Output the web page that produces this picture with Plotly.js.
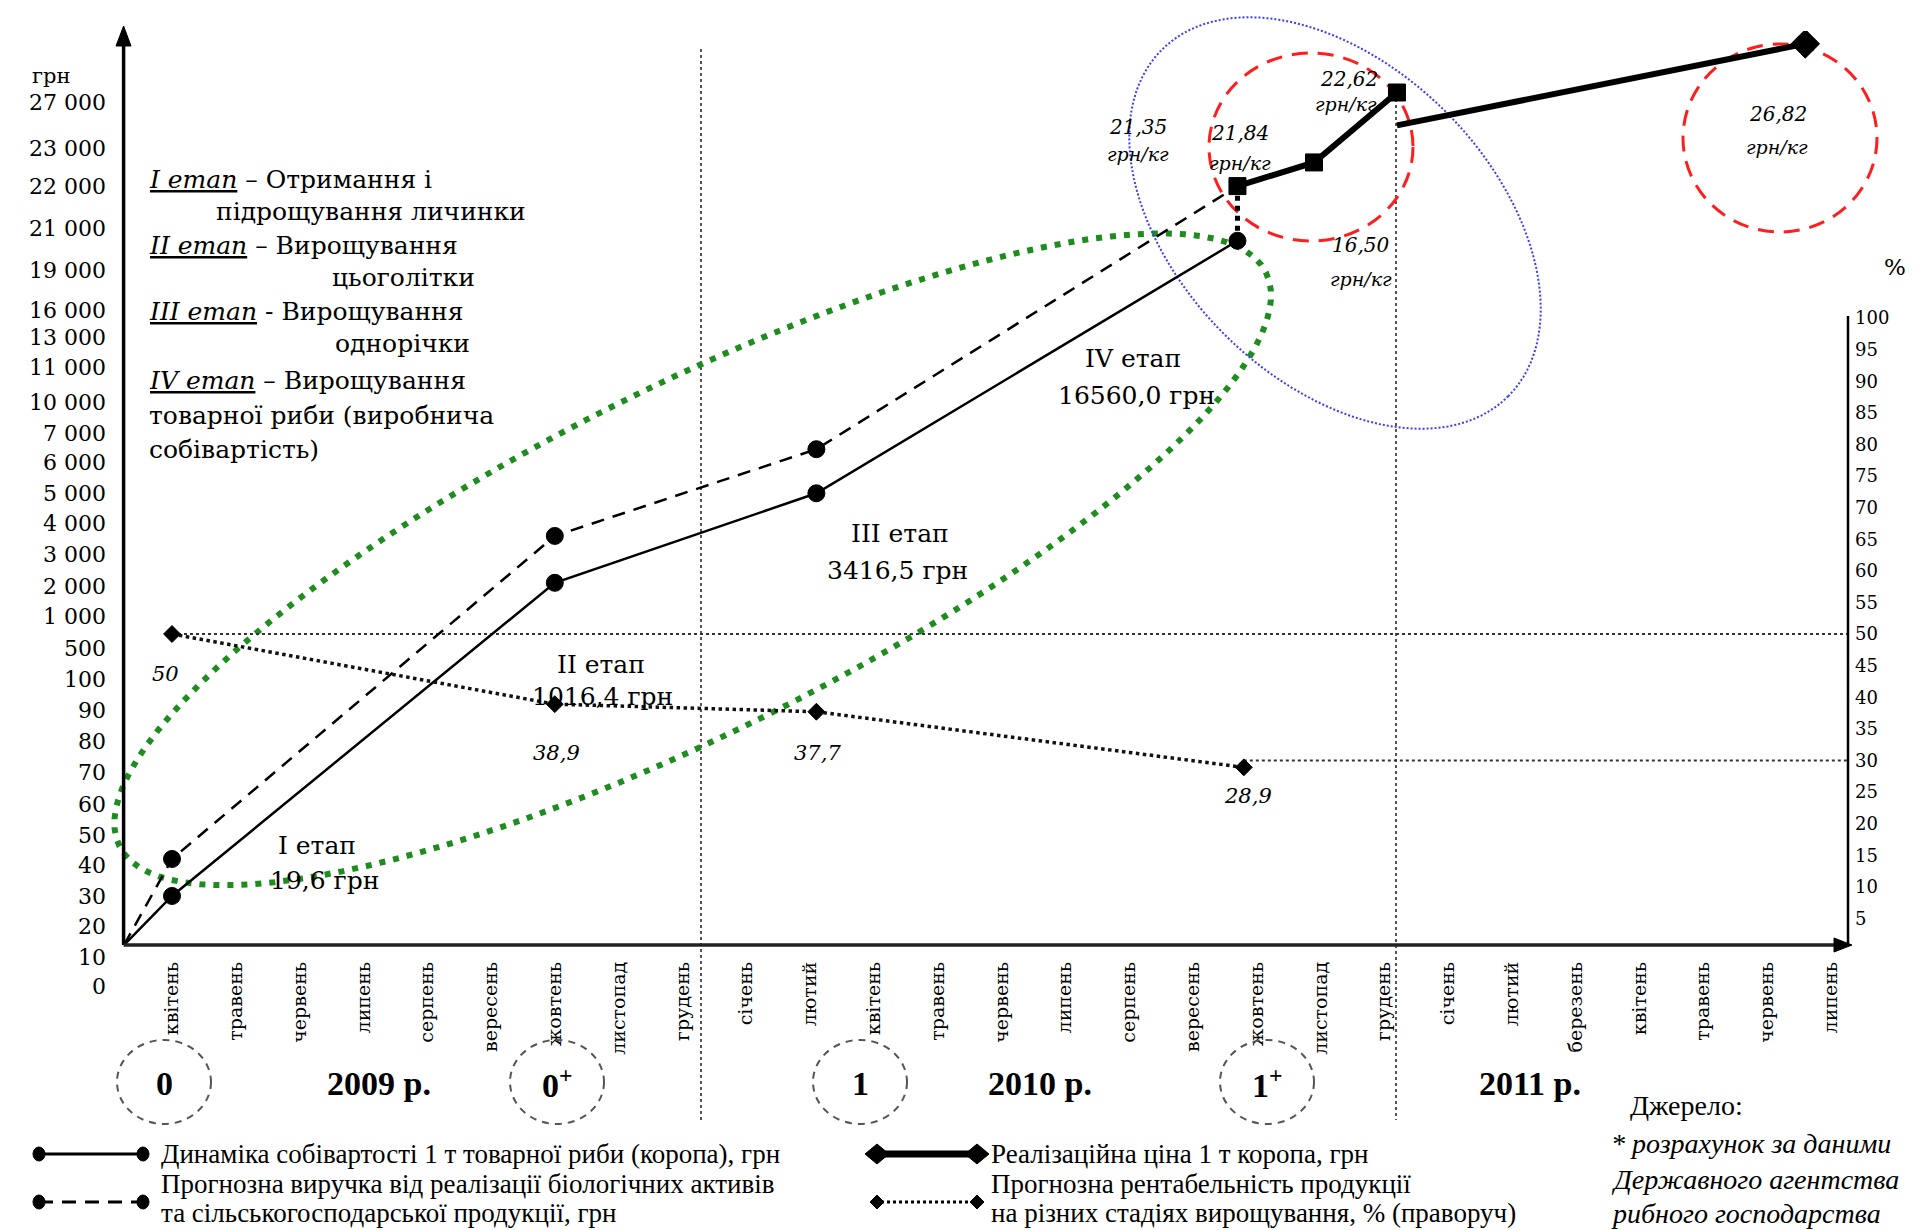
<!DOCTYPE html>
<html><head><meta charset="utf-8">
<script src="https://cdn.plot.ly/plotly-3.0.1.min.js"></script>
<style>html,body{margin:0;padding:0;background:#fff;} #chart{width:1919px;height:1230px;}</style>
</head><body><div id="chart"></div>
<script>
// ---------------- data ----------------
const monthLabels = ['квітень','травень','червень','липень','серпень','вересень','жовтень','листопад','грудень',
  'січень','лютий','квітень','травень','червень','липень','серпень','вересень','жовтень','листопад','грудень',
  'січень','лютий','березень','квітень','травень','червень','липень'];
const yTickValues = [0,10,20,30,40,50,60,70,80,90,100,500,1000,2000,3000,4000,5000,6000,7000,10000,11000,13000,16000,19000,21000,22000,23000,27000];
const yTickLabels = ['0','10','20','30','40','50','60','70','80','90','100','500','1 000','2 000','3 000','4 000','5 000','6 000','7 000','10 000','11 000','13 000','16 000','19 000','21 000','22 000','23 000','27 000'];
const y2TickValues = [5,10,15,20,25,30,35,40,45,50,55,60,65,70,75,80,85,90,95,100];

const costX = [-0.75, 0, 6, 10.1, 16.7];
const costVals = [14, 30, 2100, 5000, 20400];
const revenueX = [-0.75, 0, 6, 10.1, 16.7];
const revenueVals = [14, 42, 3600, 6450, 22000];
const priceX = [16.7, 17.9, 19.2];
const priceVals = [22000, 22620, 27900];
const price2011X = [19.2, 25.6];
const price2011Vals = [25000, 32200];
const profitX = [0, 6, 10.1, 16.8];
const profitVals = [50, 38.9, 37.7, 28.9];
const profitLabels = ['50', '38,9', '37,7', '28,9'];
const priceLabels = ['21,35', '21,84', '22,62', '16,50', '26,82'];
const stageNames = ['I етап', 'II етап', 'III етап', 'IV етап'];
const stageCosts = ['19,6 грн', '1016,4 грн', '3416,5 грн', '16560,0 грн'];
const yearLabels = ['2009 р.', '2010 р.', '2011 р.'];
const ageLabels = ['0', '0<sup>+</sup>', '1', '1<sup>+</sup>'];

// ---------------- scale of the drawn (non-uniform) left axis ----------------
const yTickSlots = [0,0.95,1.94,2.92,3.92,4.89,5.89,6.92,7.9,8.92,9.92,10.9,11.93,12.92,13.94,14.93,15.91,16.9,17.86,18.86,19.99,20.95,21.8,23.09,24.47,25.82,27.05,28.51];
function toSlot(v){
  const n = yTickValues.length;
  let i = 0;
  while(i < n-2 && v > yTickValues[i+1]) i++;
  const v0 = yTickValues[i], v1 = yTickValues[i+1], s0 = yTickSlots[i], s1 = yTickSlots[i+1];
  return s0 + (v - v0) / (v1 - v0) * (s1 - s0);
}

// ---------------- geometry helpers (page pixels -> paper) ----------------
const W = 1919, H = 1230, L = 124, R = 1848, T = 31, B = 1000;
const X = x => (x - L) / (R - L);
const Y = y => (B - y) / (B - T);
const xRange = [(L - 172) / 63.8, (R - 172) / 63.8];
const yRange = [(986.5 - B) / 31, (986.5 - T) / 31];
const y2Zero = 950, y2Px = 6.32;
const y2Range = [(y2Zero - B) / y2Px, (y2Zero - T) / y2Px];

function ellipsePath(cx, cy, a, b, thDeg){
  const th = thDeg * Math.PI / 180;
  const ux = Math.cos(th), uy = -Math.sin(th), vx = Math.sin(th), vy = Math.cos(th);
  let p = '';
  for(let k = 0; k <= 120; k++){
    const t = 2 * Math.PI * k / 120;
    const x = cx + a * Math.cos(t) * ux + b * Math.sin(t) * vx;
    const y = cy + a * Math.cos(t) * uy + b * Math.sin(t) * vy;
    p += (k === 0 ? 'M' : 'L') + X(x).toFixed(5) + ',' + Y(y).toFixed(5);
  }
  return p + 'Z';
}
function diamondPath(cx, cy, rx, ry){
  return 'M' + X(cx - rx) + ',' + Y(cy) + 'L' + X(cx) + ',' + Y(cy - ry) + 'L' + X(cx + rx) + ',' + Y(cy) + 'L' + X(cx) + ',' + Y(cy + ry) + 'Z';
}
const pline = (x0, y0, x1, y1, line, layer) => ({type:'line', xref:'paper', yref:'paper', x0:X(x0), y0:Y(y0), x1:X(x1), y1:Y(y1), line, layer: layer || 'above'});
const pcircle = (cx, cy, rx, ry, line, fill, layer) => ({type:'circle', xref:'paper', yref:'paper', x0:X(cx-rx), x1:X(cx+rx), y0:Y(cy+ry), y1:Y(cy-ry), line, fillcolor: fill || 'rgba(0,0,0,0)', layer: layer || 'above'});

const SERIF = 'Liberation Serif, Times New Roman, serif';
const DSERIF = 'DejaVu Serif, serif';
const txt = (s, x, y, size, fam, xa, extra) => Object.assign({
  text:s, x:X(x), y:Y(y), xref:'paper', yref:'paper', showarrow:false,
  xanchor: xa || 'center', yanchor:'middle', font:{family: fam, size: size, color:'#000'}
}, extra || {});

// ---------------- traces ----------------
const mk = (sizes, symbol) => ({color:'#000', size:sizes, symbol: symbol || 'circle', opacity:1, line:{color:'#000', width:1}});
const traces = [
  { x: costX, y: costVals.map(toSlot), type:'scatter', mode:'lines+markers', yaxis:'y',
    line:{color:'#000', width:2.5}, marker: mk(costVals.map((v,i)=> i===0 ? 0 : 17)), hoverinfo:'skip' },
  { x: revenueX, y: revenueVals.map(toSlot), type:'scatter', mode:'lines+markers', yaxis:'y',
    line:{color:'#000', width:2.5, dash:'13px,9px'},
    marker: mk(revenueVals.map((v,i)=> (i===0 || i===revenueVals.length-1) ? 0 : 17)), hoverinfo:'skip' },
  { x: [costX[costX.length-1], priceX[0]], y: [toSlot(costVals[costVals.length-1]), toSlot(priceVals[0])],
    type:'scatter', mode:'lines', yaxis:'y', line:{color:'#000', width:5, dash:'dot'}, hoverinfo:'skip' },
  { x: priceX, y: priceVals.map(toSlot), type:'scatter', mode:'lines+markers', yaxis:'y',
    line:{color:'#000', width:6}, marker: mk(priceVals.map(()=>17), 'square'), hoverinfo:'skip' },
  { x: price2011X, y: price2011Vals.map(toSlot), type:'scatter', mode:'lines+markers', yaxis:'y',
    line:{color:'#000', width:6}, marker: mk(price2011Vals.map((v,i)=> i===0 ? 0 : 22), 'diamond'), hoverinfo:'skip' },
  { x: profitX, y: profitVals, type:'scatter', mode:'lines+markers', yaxis:'y2',
    line:{color:'#111', width:3.5, dash:'dot'}, marker: mk(profitVals.map(()=>13), 'diamond'), hoverinfo:'skip' }
];

// ---------------- shapes ----------------
const shapes = [
  // reference levels on the right axis
  {type:'line', xref:'x', yref:'y2', x0: profitX[0], x1: xRange[1], y0: 50, y1: 50, line:{color:'#333', width:2, dash:'dot'}, layer:'below'},
  {type:'line', xref:'x', yref:'y2', x0: profitX[3], x1: xRange[1], y0: 30, y1: 30, line:{color:'#333', width:2, dash:'dot'}, layer:'below'},
  // year dividers
  pline(701, 49, 701, 1120, {color:'#555', width:2, dash:'dot'}, 'below'),
  pline(1396, 93, 1396, 1120, {color:'#555', width:2, dash:'dot'}, 'below'),
  // axes with arrows
  pline(123.6, 945, 123.6, 44, {color:'#000', width:3.5}),
  {type:'path', xref:'paper', yref:'paper', path:'M'+X(123.6)+','+Y(26)+'L'+X(131)+','+Y(46)+'L'+X(116)+','+Y(46)+'Z', fillcolor:'#000', line:{color:'#000', width:1}},
  pline(123.6, 945, 1836, 945, {color:'#222', width:3.5}),
  {type:'path', xref:'paper', yref:'paper', path:'M'+X(1852)+','+Y(945)+'L'+X(1834)+','+Y(938)+'L'+X(1834)+','+Y(952)+'Z', fillcolor:'#000', line:{color:'#000', width:1}},
  pline(1848, 945, 1848, 316, {color:'#000', width:2.5}),
  // ellipses
  {type:'path', xref:'paper', yref:'paper', layer:'below', path: ellipsePath(692.7, 559.3, 641, 172.6, 26.6), line:{color:'#1e8c1e', width:6, dash:'6px,8px'}},
  {type:'path', xref:'paper', yref:'paper', layer:'below', path: ellipsePath(1335, 223, 245, 157, -45), line:{color:'#3c3cff', width:2, dash:'2px,2px'}},
  pcircle(1311, 147, 102, 94, {color:'#ff1e1e', width:3, dash:'16px,10px'}, null, 'below'),
  pcircle(1780, 138, 97, 94, {color:'#ff1e1e', width:3, dash:'16px,10px'}, null, 'below'),
  // age circles
  pcircle(164, 1082, 47, 42, {color:'#555', width:2, dash:'7px,6px'}),
  pcircle(557, 1082, 47, 42, {color:'#555', width:2, dash:'7px,6px'}),
  pcircle(860, 1082, 47, 42, {color:'#555', width:2, dash:'7px,6px'}),
  pcircle(1267, 1082, 47, 42, {color:'#555', width:2, dash:'7px,6px'}),
  // legend samples
  pline(39, 1154, 143, 1154, {color:'#000', width:3}),
  pcircle(39, 1154, 6, 7, {color:'#000', width:1}, '#000'),
  pcircle(143, 1154, 6, 7, {color:'#000', width:1}, '#000'),
  pline(39, 1202, 143, 1202, {color:'#000', width:3, dash:'14px,9px'}),
  pcircle(39, 1202, 6, 7, {color:'#000', width:1}, '#000'),
  pcircle(143, 1202, 6, 7, {color:'#000', width:1}, '#000'),
  pline(875, 1154, 979, 1154, {color:'#000', width:7}),
  {type:'path', xref:'paper', yref:'paper', path: diamondPath(877, 1154, 12, 10), fillcolor:'#000', line:{color:'#000', width:1}},
  {type:'path', xref:'paper', yref:'paper', path: diamondPath(977, 1154, 12, 10), fillcolor:'#000', line:{color:'#000', width:1}},
  pline(875, 1202, 979, 1202, {color:'#000', width:3, dash:'dot'}),
  {type:'path', xref:'paper', yref:'paper', path: diamondPath(877, 1202, 7, 7), fillcolor:'#000', line:{color:'#000', width:1}},
  {type:'path', xref:'paper', yref:'paper', path: diamondPath(977, 1202, 7, 7), fillcolor:'#000', line:{color:'#000', width:1}}
];

// ---------------- text ----------------
const DS = 25, LG = 27;
const ann = [
  txt('грн', 51, 76, 21, DSERIF),
  txt('%', 1895, 267, 23, DSERIF),
  txt('<u><i>I етап</i></u> – Отримання і', 147, 180, DS, DSERIF, 'left'),
  txt('підрощування личинки', 214, 211, DS, DSERIF, 'left'),
  txt('<u><i>II етап</i></u> – Вирощування', 147, 245, DS, DSERIF, 'left'),
  txt('цьоголітки', 330, 277, DS, DSERIF, 'left'),
  txt('<u><i>III етап</i></u> - Вирощування', 147, 311, DS, DSERIF, 'left'),
  txt('однорічки', 333, 343, DS, DSERIF, 'left'),
  txt('<u><i>IV етап</i></u> – Вирощування', 147, 380, DS, DSERIF, 'left'),
  txt('товарної риби (виробнича', 147, 416, DS, DSERIF, 'left'),
  txt('собівартість)', 147, 450, DS, DSERIF, 'left'),
  // stage labels
  txt(stageNames[0], 317, 845, 25, DSERIF), txt(stageCosts[0], 324, 880, 25, DSERIF),
  txt(stageNames[1], 601, 664, 25, DSERIF), txt(stageCosts[1], 602, 696, 25, DSERIF),
  txt(stageNames[2], 900, 533, 25, DSERIF), txt(stageCosts[2], 897, 570, 25, DSERIF),
  txt(stageNames[3], 1133, 359, 25, DSERIF), txt(stageCosts[3], 1136, 395, 25, DSERIF),
  // profitability labels
  txt('<i>' + profitLabels[0] + '</i>', 165, 674, 21, DSERIF),
  txt('<i>' + profitLabels[1] + '</i>', 556, 753, 21, DSERIF),
  txt('<i>' + profitLabels[2] + '</i>', 817, 753, 21, DSERIF),
  txt('<i>' + profitLabels[3] + '</i>', 1248, 796, 21, DSERIF),
  // price labels
  txt('<i>' + priceLabels[0] + '</i>', 1138, 127, 20, DSERIF), txt('<i>грн/кг</i>', 1138, 154, 19, DSERIF),
  txt('<i>' + priceLabels[1] + '</i>', 1240, 133, 20, DSERIF), txt('<i>грн/кг</i>', 1240, 163, 19, DSERIF),
  txt('<i>' + priceLabels[2] + '</i>', 1349, 79, 20, DSERIF), txt('<i>грн/кг</i>', 1346, 104, 19, DSERIF),
  txt('<i>' + priceLabels[3] + '</i>', 1361, 245, 20, DSERIF), txt('<i>грн/кг</i>', 1361, 279, 19, DSERIF),
  txt('<i>' + priceLabels[4] + '</i>', 1778, 114, 20, DSERIF), txt('<i>грн/кг</i>', 1777, 147, 19, DSERIF),
  // age / year row
  txt('<b>' + ageLabels[0] + '</b>', 164, 1083, 34, SERIF),
  txt('<b>' + yearLabels[0] + '</b>', 379, 1083, 34, SERIF),
  txt('<b>' + ageLabels[1] + '</b>', 557, 1083, 34, SERIF),
  txt('<b>' + ageLabels[2] + '</b>', 860, 1083, 34, SERIF),
  txt('<b>' + yearLabels[1] + '</b>', 1040, 1083, 34, SERIF),
  txt('<b>' + ageLabels[3] + '</b>', 1267, 1083, 34, SERIF),
  txt('<b>' + yearLabels[2] + '</b>', 1530, 1083, 34, SERIF),
  // legend text
  txt('Динаміка собівартості 1 т товарної риби (коропа), грн', 159, 1154, LG, SERIF, 'left'),
  txt('Прогнозна виручка від реалізації біологічних активів', 159, 1184, LG, SERIF, 'left'),
  txt('та сільськогосподарської продукції, грн', 159, 1213, LG, SERIF, 'left'),
  txt('Реалізаційна ціна 1 т коропа, грн', 989, 1154, LG, SERIF, 'left'),
  txt('Прогнозна рентабельність продукції', 989, 1184, LG, SERIF, 'left'),
  txt('на різних стадіях вирощування, % (праворуч)', 989, 1213, LG, SERIF, 'left'),
  // source
  txt('Джерело:', 1628, 1105, 28, SERIF, 'left'),
  txt('<i>* розрахунок за даними</i>', 1609, 1143, 28, SERIF, 'left'),
  txt('<i>Державного агентства</i>', 1609, 1179, 28, SERIF, 'left'),
  txt('<i>рибного господарства</i>', 1609, 1213, 28, SERIF, 'left')
];

const layout = {
  width: W, height: H,
  margin: {l: L, r: W - R, t: T, b: H - B, pad: 0},
  paper_bgcolor: '#fff', plot_bgcolor: 'rgba(0,0,0,0)',
  showlegend: false,
  xaxis: {
    range: xRange, anchor: 'free', position: Y(945),
    tickmode: 'array', tickvals: monthLabels.map((m, i) => i), ticktext: monthLabels,
    tickangle: -90, ticks: '', ticklabelstandoff: 12,
    tickfont: {family: DSERIF, size: 19, color: '#000'},
    showline: false, showgrid: false, zeroline: false
  },
  yaxis: {
    range: yRange, tickmode: 'array', tickvals: yTickSlots, ticktext: yTickLabels,
    ticks: '', ticklabelstandoff: 17,
    tickfont: {family: DSERIF, size: 22, color: '#000'},
    showline: false, showgrid: false, zeroline: false
  },
  yaxis2: {
    range: y2Range, overlaying: 'y', side: 'right', anchor: 'x',
    tickmode: 'array', tickvals: y2TickValues, ticks: '', ticklabelstandoff: 6,
    tickfont: {family: DSERIF, size: 18, color: '#000'},
    showline: false, showgrid: false, zeroline: false
  },
  shapes: shapes,
  annotations: ann
};

Plotly.newPlot('chart', traces, layout, {displayModeBar: false, staticPlot: true});
</script>
</body></html>
